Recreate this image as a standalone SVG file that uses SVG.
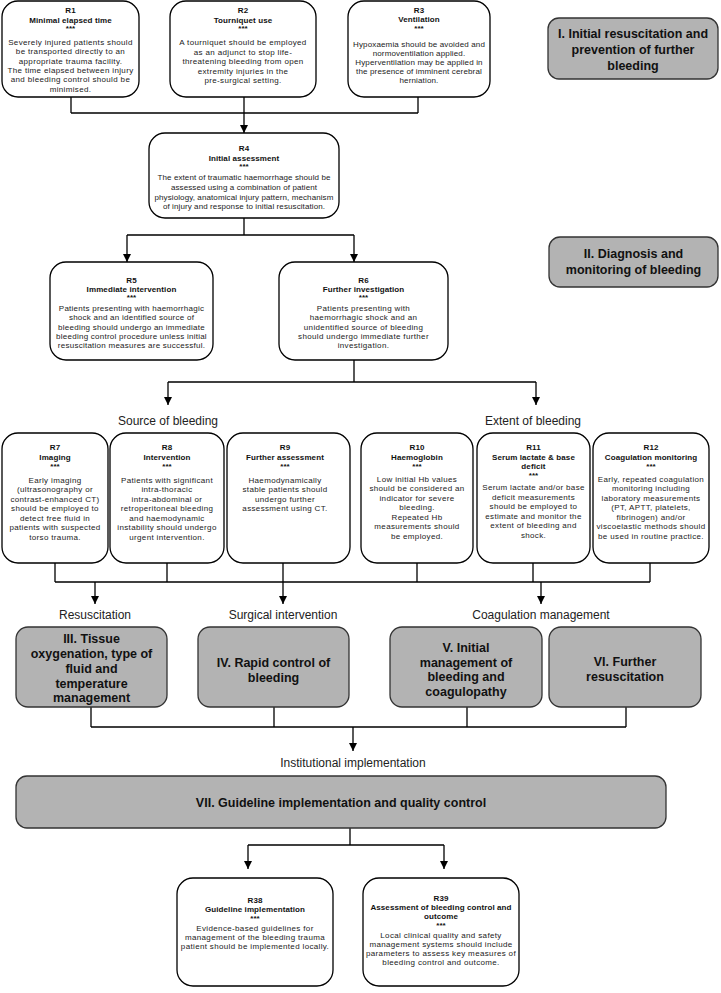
<svg xmlns="http://www.w3.org/2000/svg" width="721" height="993" viewBox="0 0 721 993">
<style>
text{font-family:"Liberation Sans",Arial,Helvetica,sans-serif;text-anchor:middle}
.b{font-size:8px;letter-spacing:0.35px;fill:#222}
.t{font-size:8px;font-weight:bold;letter-spacing:0.1px;fill:#111}
.g{font-size:12.5px;font-weight:bold;fill:#111}
.l{font-size:12px;fill:#222}
.w{fill:#fff;stroke:#000;stroke-width:1.3}
.gr{fill:#b3b3b3;stroke:#333;stroke-width:1.3}
.c{fill:none;stroke:#000;stroke-width:1.3}
</style>
<defs>
<marker id="ah" markerUnits="userSpaceOnUse" markerWidth="9" markerHeight="9" refX="8" refY="4" orient="auto">
<path d="M0,0 L8,4 L0,8 z" fill="#000"/>
</marker>
</defs>
<rect width="721" height="993" fill="#fff"/>

<g id="connectors">
<path class="c" d="M71,97 V113 M418,97 V113 M71,113 H418"/>
<path class="c" d="M244,97 V133" marker-end="url(#ah)"/>
<path class="c" d="M244,218 V235 M127,235 H354"/>
<path class="c" d="M127,235 V262" marker-end="url(#ah)"/>
<path class="c" d="M354,235 V262" marker-end="url(#ah)"/>
<path class="c" d="M354,360 V382 M168,382 H536"/>
<path class="c" d="M168,382 V405" marker-end="url(#ah)"/>
<path class="c" d="M536,382 V405" marker-end="url(#ah)"/>
<path class="c" d="M55,563 V582 M167,563 V582 M417,563 V582 M533,563 V582 M650,563 V582 M55,582 H650"/>
<path class="c" d="M95,582 V604" marker-end="url(#ah)"/>
<path class="c" d="M283,563 V604" marker-end="url(#ah)"/>
<path class="c" d="M541,582 V604" marker-end="url(#ah)"/>
<path class="c" d="M91,707 V727 M274,707 V727 M467,707 V727 M626,707 V727 M91,727 H626"/>
<path class="c" d="M353,727 V751" marker-end="url(#ah)"/>
<path class="c" d="M350,828 V845 M248,845 H444"/>
<path class="c" d="M248,845 V869" marker-end="url(#ah)"/>
<path class="c" d="M444,845 V869" marker-end="url(#ah)"/>
</g>

<g id="R1">
<rect class="w" x="2" y="1" width="137" height="96" rx="16"/>
<text class="t" x="70.5" y="12.5">R1</text>
<text class="t" x="70.5" y="22.5">Minimal elapsed time</text>
<text class="t" x="70.5" y="31">***</text>
<text class="b" x="70.5" y="45">Severely injured patients should</text>
<text class="b" x="70.5" y="54.3">be transported directly to an</text>
<text class="b" x="70.5" y="63.6">appropriate trauma facility.</text>
<text class="b" x="70.5" y="72.9">The time elapsed between injury</text>
<text class="b" x="70.5" y="82.2">and bleeding control should be</text>
<text class="b" x="70.5" y="91.5">minimised.</text>
</g>

<g id="R2">
<rect class="w" x="170" y="1" width="146" height="96" rx="16"/>
<text class="t" x="243" y="12.5">R2</text>
<text class="t" x="243" y="22.5">Tourniquet use</text>
<text class="t" x="243" y="31">***</text>
<text class="b" x="243" y="45">A tourniquet should be employed</text>
<text class="b" x="243" y="54.5">as an adjunct to stop life-</text>
<text class="b" x="243" y="64">threatening bleeding from open</text>
<text class="b" x="243" y="73.5">extremity injuries in the</text>
<text class="b" x="243" y="83">pre-surgical setting.</text>
</g>

<g id="R3">
<rect class="w" x="348" y="1" width="142" height="96" rx="16"/>
<text class="t" x="419" y="12.5">R3</text>
<text class="t" x="419" y="22">Ventilation</text>
<text class="t" x="419" y="30.5">***</text>
<text class="b" x="419" y="47" style="letter-spacing:0.15px">Hypoxaemia should be avoided and</text>
<text class="b" x="419" y="56" style="letter-spacing:0.15px">normoventilation applied.</text>
<text class="b" x="419" y="65" style="letter-spacing:0.15px">Hyperventilation may be applied in</text>
<text class="b" x="419" y="74" style="letter-spacing:0.15px">the presence of imminent cerebral</text>
<text class="b" x="419" y="83" style="letter-spacing:0.15px">herniation.</text>
</g>

<g id="secI">
<rect class="gr" x="548" y="18" width="170" height="61" rx="11"/>
<text class="g" x="633" y="37.5">I. Initial resuscitation and</text>
<text class="g" x="633" y="53.5">prevention of further</text>
<text class="g" x="633" y="69.5">bleeding</text>
</g>

<g id="R4">
<rect class="w" x="149" y="133" width="190" height="85" rx="16"/>
<text class="t" x="244" y="150.5">R4</text>
<text class="t" x="244" y="161">Initial assessment</text>
<text class="t" x="244" y="168.5">***</text>
<text class="b" x="244" y="180" style="letter-spacing:0.1px">The extent of traumatic haemorrhage should be</text>
<text class="b" x="244" y="190" style="letter-spacing:0.1px">assessed using a combination of patient</text>
<text class="b" x="244" y="199.5" style="letter-spacing:0.1px">physiology, anatomical injury pattern, mechanism</text>
<text class="b" x="244" y="209" style="letter-spacing:0.1px">of injury and response to initial resuscitation.</text>
</g>

<g id="secII">
<rect class="gr" x="549" y="237" width="169" height="50" rx="11"/>
<text class="g" x="633.5" y="258">II. Diagnosis and</text>
<text class="g" x="633.5" y="274">monitoring of bleeding</text>
</g>

<g id="R5">
<rect class="w" x="50" y="262" width="163" height="98" rx="16"/>
<text class="t" x="131.5" y="283">R5</text>
<text class="t" x="131.5" y="292">Immediate intervention</text>
<text class="t" x="131.5" y="300">***</text>
<text class="b" x="131.5" y="310.5" style="letter-spacing:0.25px">Patients presenting with haemorrhagic</text>
<text class="b" x="131.5" y="320" style="letter-spacing:0.25px">shock and an identified source of</text>
<text class="b" x="131.5" y="329.5" style="letter-spacing:0.25px">bleeding should undergo an immediate</text>
<text class="b" x="131.5" y="338.5" style="letter-spacing:0.25px">bleeding control procedure unless initial</text>
<text class="b" x="131.5" y="347.5" style="letter-spacing:0.25px">resuscitation measures are successful.</text>
</g>

<g id="R6">
<rect class="w" x="279" y="262" width="169" height="98" rx="16"/>
<text class="t" x="363.5" y="283">R6</text>
<text class="t" x="363.5" y="292">Further investigation</text>
<text class="t" x="363.5" y="300">***</text>
<text class="b" x="363.5" y="310.5">Patients presenting with</text>
<text class="b" x="363.5" y="320">haemorrhagic shock and an</text>
<text class="b" x="363.5" y="329.5">unidentified source of bleeding</text>
<text class="b" x="363.5" y="338.5">should undergo immediate further</text>
<text class="b" x="363.5" y="347.5">investigation.</text>
</g>

<g id="labels1">
<text class="l" x="168" y="424.5">Source of bleeding</text>
<text class="l" x="533" y="424.5">Extent of bleeding</text>
</g>

<g id="R7">
<rect class="w" x="2" y="433" width="106" height="130" rx="16"/>
<text class="t" x="55" y="450">R7</text>
<text class="t" x="55" y="460">Imaging</text>
<text class="t" x="55" y="468.5">***</text>
<text class="b" x="55" y="482.5">Early imaging</text>
<text class="b" x="55" y="492">(ultrasonography or</text>
<text class="b" x="55" y="501.5">contrast-enhanced CT)</text>
<text class="b" x="55" y="511">should be employed to</text>
<text class="b" x="55" y="520.5">detect free fluid in</text>
<text class="b" x="55" y="530">patients with suspected</text>
<text class="b" x="55" y="539.5">torso trauma.</text>
</g>

<g id="R8">
<rect class="w" x="110" y="433" width="114" height="130" rx="16"/>
<text class="t" x="167" y="450">R8</text>
<text class="t" x="167" y="460">Intervention</text>
<text class="t" x="167" y="468.5">***</text>
<text class="b" x="167" y="482.5">Patients with significant</text>
<text class="b" x="167" y="492">intra-thoracic</text>
<text class="b" x="167" y="501.5">intra-abdominal or</text>
<text class="b" x="167" y="511">retroperitoneal bleeding</text>
<text class="b" x="167" y="520.5">and haemodynamic</text>
<text class="b" x="167" y="530">instability should undergo</text>
<text class="b" x="167" y="539.5">urgent intervention.</text>
</g>

<g id="R9">
<rect class="w" x="227" y="433" width="123" height="130" rx="16"/>
<text class="t" x="285" y="450">R9</text>
<text class="t" x="285" y="460">Further assessment</text>
<text class="t" x="285" y="468.5">***</text>
<text class="b" x="285" y="482.5">Haemodynamically</text>
<text class="b" x="285" y="492">stable patients should</text>
<text class="b" x="285" y="501.5">undergo further</text>
<text class="b" x="285" y="511">assessment using CT.</text>
</g>

<g id="R10">
<rect class="w" x="361" y="433" width="112" height="130" rx="16"/>
<text class="t" x="417" y="450">R10</text>
<text class="t" x="417" y="460">Haemoglobin</text>
<text class="t" x="417" y="468.5">***</text>
<text class="b" x="417" y="481.5">Low initial Hb values</text>
<text class="b" x="417" y="491">should be considered an</text>
<text class="b" x="417" y="500.5">indicator for severe</text>
<text class="b" x="417" y="510">bleeding.</text>
<text class="b" x="417" y="519.5">Repeated Hb</text>
<text class="b" x="417" y="529">measurements should</text>
<text class="b" x="417" y="538.5">be employed.</text>
</g>

<g id="R11">
<rect class="w" x="477" y="433" width="113" height="130" rx="16"/>
<text class="t" x="533.5" y="450">R11</text>
<text class="t" x="533.5" y="460">Serum lactate &amp; base</text>
<text class="t" x="533.5" y="469">deficit</text>
<text class="t" x="533.5" y="477.5">***</text>
<text class="b" x="533.5" y="490">Serum lactate and/or base</text>
<text class="b" x="533.5" y="499.5">deficit measurements</text>
<text class="b" x="533.5" y="509">should be employed to</text>
<text class="b" x="533.5" y="518.5">estimate and monitor the</text>
<text class="b" x="533.5" y="528">extent of bleeding and</text>
<text class="b" x="533.5" y="537.5">shock.</text>
</g>

<g id="R12">
<rect class="w" x="593" y="433" width="116" height="130" rx="16"/>
<text class="t" x="651" y="450">R12</text>
<text class="t" x="651" y="460">Coagulation monitoring</text>
<text class="t" x="651" y="468.5">***</text>
<text class="b" x="651" y="481.5">Early, repeated coagulation</text>
<text class="b" x="651" y="491">monitoring including</text>
<text class="b" x="651" y="500.5">laboratory measurements</text>
<text class="b" x="651" y="510">(PT, APTT, platelets,</text>
<text class="b" x="651" y="519.5">fibrinogen) and/or</text>
<text class="b" x="651" y="529">viscoelastic methods should</text>
<text class="b" x="651" y="538.5">be used in routine practice.</text>
</g>

<g id="labels2">
<text class="l" x="95" y="619">Resuscitation</text>
<text class="l" x="283" y="619">Surgical intervention</text>
<text class="l" x="541" y="619">Coagulation management</text>
</g>

<g id="secIII">
<rect class="gr" x="16" y="627" width="151" height="80" rx="12"/>
<text class="g" x="91.5" y="642.5">III. Tissue</text>
<text class="g" x="91.5" y="657.5">oxygenation, type of</text>
<text class="g" x="91.5" y="672.5">fluid and</text>
<text class="g" x="91.5" y="687.5">temperature</text>
<text class="g" x="91.5" y="702">management</text>
</g>

<g id="secIV">
<rect class="gr" x="198" y="627" width="151" height="80" rx="12"/>
<text class="g" x="273.5" y="666.5">IV. Rapid control of</text>
<text class="g" x="273.5" y="681.5">bleeding</text>
</g>

<g id="secV">
<rect class="gr" x="390" y="627" width="152" height="80" rx="12"/>
<text class="g" x="466" y="651.5">V. Initial</text>
<text class="g" x="466" y="666.5">management of</text>
<text class="g" x="466" y="681">bleeding and</text>
<text class="g" x="466" y="695.5">coagulopathy</text>
</g>

<g id="secVI">
<rect class="gr" x="549" y="627" width="152" height="80" rx="12"/>
<text class="g" x="625" y="665.5">VI. Further</text>
<text class="g" x="625" y="680.5">resuscitation</text>
</g>

<g id="labels3">
<text class="l" x="353" y="767">Institutional implementation</text>
</g>

<g id="secVII">
<rect class="gr" x="16" y="776" width="650" height="52" rx="11"/>
<text class="g" x="341" y="806.5">VII. Guideline implementation and quality control</text>
</g>

<g id="R38">
<rect class="w" x="177" y="878" width="156" height="108" rx="16"/>
<text class="t" x="255" y="903">R38</text>
<text class="t" x="255" y="912">Guideline implementation</text>
<text class="t" x="255" y="921">***</text>
<text class="b" x="255" y="931">Evidence-based guidelines for</text>
<text class="b" x="255" y="940">management of the bleeding trauma</text>
<text class="b" x="255" y="949">patient should be implemented locally.</text>
</g>

<g id="R39">
<rect class="w" x="363" y="878" width="156" height="108" rx="16"/>
<text class="t" x="441" y="901">R39</text>
<text class="t" x="441" y="910">Assessment of bleeding control and</text>
<text class="t" x="441" y="919">outcome</text>
<text class="t" x="441" y="928">***</text>
<text class="b" x="441" y="938">Local clinical quality and safety</text>
<text class="b" x="441" y="947">management systems should include</text>
<text class="b" x="441" y="956">parameters to assess key measures of</text>
<text class="b" x="441" y="965">bleeding control and outcome.</text>
</g>
</svg>
